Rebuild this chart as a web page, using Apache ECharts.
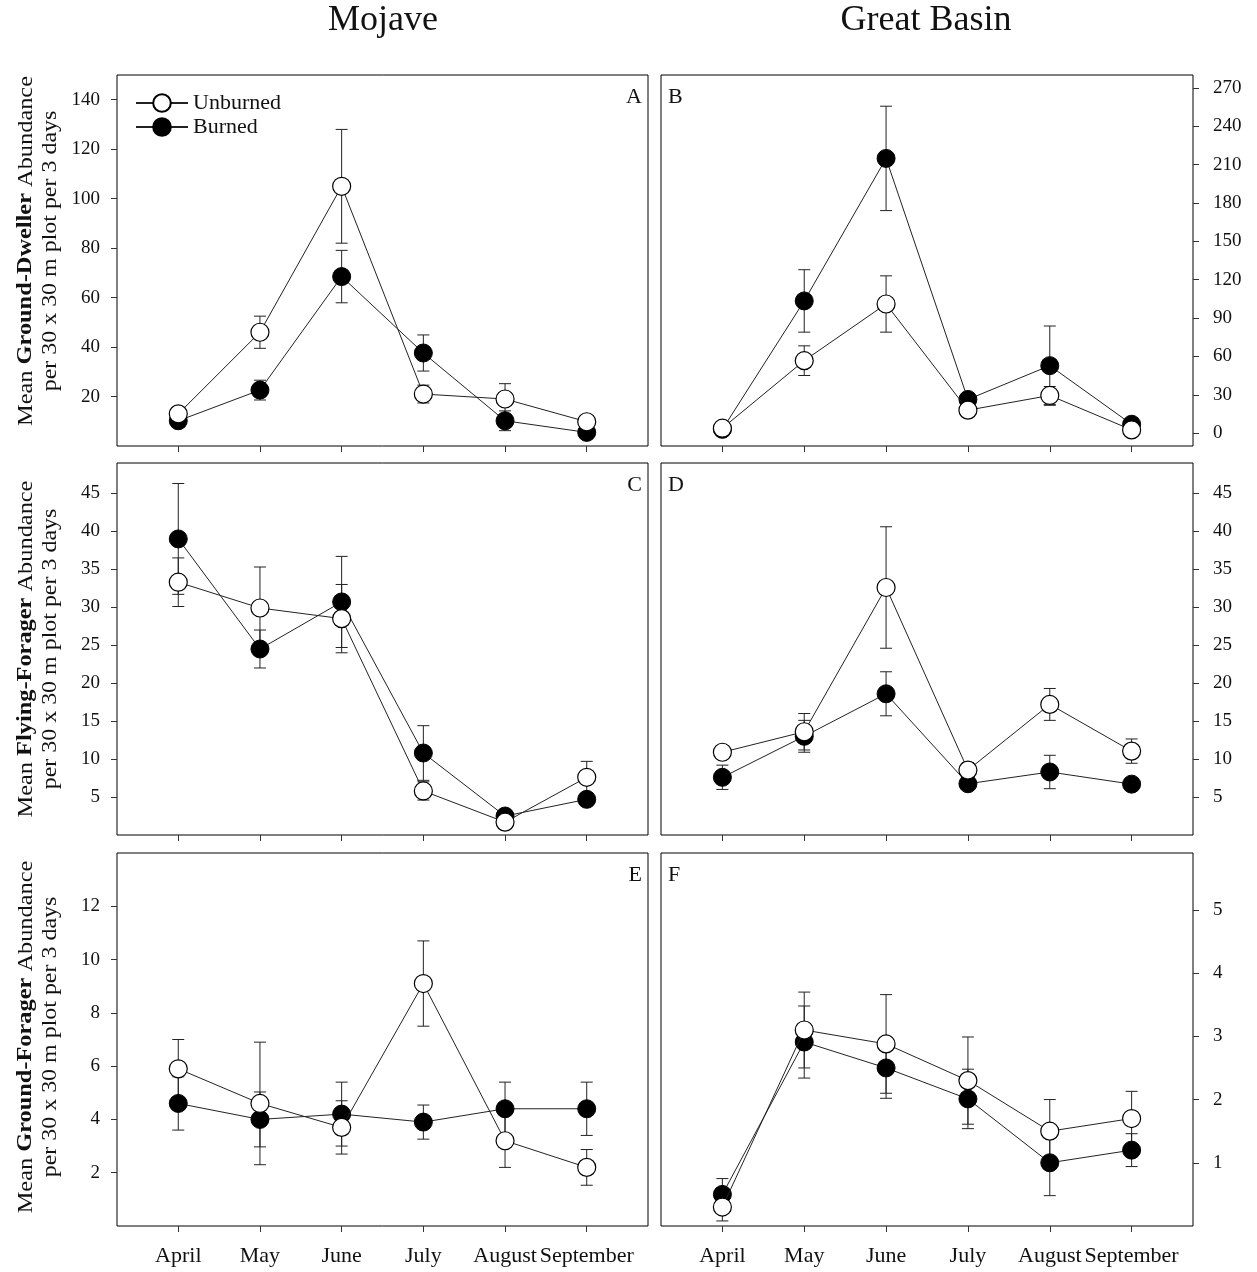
<!DOCTYPE html>
<html>
<head>
<meta charset="utf-8">
<script src="https://cdn.jsdelivr.net/npm/echarts@6/dist/echarts.min.js"></script>
<style>
  html, body { margin: 0; padding: 0; background: #fff; }
  #chart { width: 1257px; height: 1272px; }
</style>
</head>
<body>
<div id="chart"></div>
<script>
var months = ['April', 'May', 'June', 'July', 'August', 'September'];

// A - Mojave, ground-dweller
var aUnb = [13, 46, 105, 21, 19, 9.8];
var aUnbSE = [2, 6.5, 23, 3.6, 6.2, 1.5];
var aBur = [10.2, 22.6, 68.5, 37.6, 10.2, 5.5];
var aBurSE = [1.5, 4, 10.6, 7.3, 4, 1];
var aTicks = [20, 40, 60, 80, 100, 120, 140];

// B - Great Basin, ground-dweller
var bUnb = [3.9, 56.7, 101, 18, 29.5, 2.6];
var bUnbSE = [1.5, 11.6, 22, 3, 7, 1];
var bBur = [3, 103.4, 214.8, 26.4, 52.8, 7];
var bBurSE = [1, 24.4, 40.8, 3, 31, 1.5];
var bTicks = [0, 30, 60, 90, 120, 150, 180, 210, 240, 270];

// C - Mojave, flying-forager
var cUnb = [33.3, 29.9, 28.5, 5.8, 1.7, 7.6];
var cUnbSE = [3.2, 5.4, 4.5, 1.2, 0.5, 2.1];
var cBur = [39.0, 24.5, 30.7, 10.8, 2.5, 4.7];
var cBurSE = [7.3, 2.5, 6, 3.6, 0.5, 0.8];
var cTicks = [5, 10, 15, 20, 25, 30, 35, 40, 45];

// D - Great Basin, flying-forager
var dUnb = [10.9, 13.6, 32.6, 8.55, 17.2, 11.05];
var dUnbSE = [0.8, 2.4, 8, 1, 2.1, 1.6];
var dBur = [7.6, 13.0, 18.6, 6.75, 8.3, 6.7];
var dBurSE = [1.6, 2.1, 2.9, 0.5, 2.2, 0.5];
var dTicks = [5, 10, 15, 20, 25, 30, 35, 40, 45];

// E - Mojave, ground-forager
var eUnb = [5.9, 4.6, 3.7, 9.1, 3.2, 2.2];
var eUnbSE = [1.1, 2.3, 1.0, 1.6, 1.0, 0.67];
var eBur = [4.6, 4.0, 4.2, 3.9, 4.4, 4.4];
var eBurSE = [1.0, 1.03, 1.2, 0.64, 1.0, 1.0];
var eTicks = [2, 4, 6, 8, 10, 12];

// F - Great Basin, ground-forager
var fUnb = [0.3, 3.1, 2.88, 2.3, 1.5, 1.7];
var fUnbSE = [0.22, 0.6, 0.78, 0.69, 0.5, 0.43];
var fBur = [0.5, 2.91, 2.5, 2.01, 1.0, 1.2];
var fBurSE = [0.25, 0.57, 0.48, 0.47, 0.52, 0.26];
var fTicks = [1, 2, 3, 4, 5];

var guilds = ['Ground-Dweller', 'Flying-Forager', 'Ground-Forager'];

var FONT = '"Liberation Serif", "DejaVu Serif", serif';
var INK = '#111';

var panels = [
    { letter: 'A', unb: aUnb, unbSE: aUnbSE, bur: aBur, burSE: aBurSE, ticks: aTicks, min: 0, max: 150, right: false, row: 0 },
    { letter: 'B', unb: bUnb, unbSE: bUnbSE, bur: bBur, burSE: bBurSE, ticks: bTicks, min: -10, max: 280, right: true, row: 0 },
    { letter: 'C', unb: cUnb, unbSE: cUnbSE, bur: cBur, burSE: cBurSE, ticks: cTicks, min: 0, max: 49, right: false, row: 1 },
    { letter: 'D', unb: dUnb, unbSE: dUnbSE, bur: dBur, burSE: dBurSE, ticks: dTicks, min: 0, max: 49, right: true, row: 1 },
    { letter: 'E', unb: eUnb, unbSE: eUnbSE, bur: eBur, burSE: eBurSE, ticks: eTicks, min: 0, max: 14, right: false, row: 2 },
    { letter: 'F', unb: fUnb, unbSE: fUnbSE, bur: fBur, burSE: fBurSE, ticks: fTicks, min: 0, max: 5.9, right: true, row: 2 }
];

var rowTop = [75, 463, 853];
var rowH = [371, 372, 373];
var colLeft = [117, 661];
var colW = [531, 532];
var titleY = [251, 649, 1037];

function pairs(arr) {
    return arr.map(function (v, i) { return [i, v]; });
}
function triples(arr, se) {
    return arr.map(function (v, i) { return [i, v, se[i]]; });
}

function errBars(params, api) {
    var x = api.value(0), m = api.value(1), s = api.value(2);
    var top = api.coord([x, m + s]);
    var bot = api.coord([x, m - s]);
    var w = 6;
    var st = { stroke: '#222', lineWidth: 1 };
    return {
        type: 'group',
        children: [
            { type: 'line', shape: { x1: top[0], y1: top[1], x2: bot[0], y2: bot[1] }, style: st },
            { type: 'line', shape: { x1: top[0] - w, y1: top[1], x2: top[0] + w, y2: top[1] }, style: st },
            { type: 'line', shape: { x1: bot[0] - w, y1: bot[1], x2: bot[0] + w, y2: bot[1] }, style: st }
        ]
    };
}

var grids = [], xAxes = [], yAxes = [], series = [], graphics = [];

panels.forEach(function (p, k) {
    var col = p.right ? 1 : 0;
    grids.push({
        left: colLeft[col], top: rowTop[p.row], width: colW[col], height: rowH[p.row],
        show: true, borderColor: '#000', borderWidth: 1
    });
    xAxes.push({
        gridIndex: k, type: 'value', min: -0.75, max: 5.75,
        axisLine: { show: false, onZero: false },
        splitLine: { show: false },
        axisTick: { show: true, length: 6, lineStyle: { color: '#333' }, customValues: [0, 1, 2, 3, 4, 5] },
        axisLabel: {
            show: p.row === 2, customValues: [0, 1, 2, 3, 4, 5], margin: 19,
            formatter: function (v) { return months[Math.round(v)]; },
            fontFamily: FONT, fontSize: 22, color: INK
        }
    });
    yAxes.push({
        gridIndex: k, type: 'value', min: p.min, max: p.max,
        position: p.right ? 'right' : 'left',
        axisLine: { show: false, onZero: false },
        splitLine: { show: false },
        axisTick: { show: true, length: 6, lineStyle: { color: '#333' }, customValues: p.ticks },
        axisLabel: { customValues: p.ticks, margin: p.right ? 20 : 17, fontFamily: FONT, fontSize: 19, color: INK }
    });
    series.push({
        type: 'custom', xAxisIndex: k, yAxisIndex: k, z: 1,
        renderItem: errBars, encode: { x: 0, y: 1 },
        data: triples(p.bur, p.burSE), silent: true
    });
    series.push({
        type: 'custom', xAxisIndex: k, yAxisIndex: k, z: 1,
        renderItem: errBars, encode: { x: 0, y: 1 },
        data: triples(p.unb, p.unbSE), silent: true
    });
    series.push({
        name: 'Burned', type: 'line', xAxisIndex: k, yAxisIndex: k, z: 3,
        data: pairs(p.bur), symbol: 'circle', symbolSize: 18,
        itemStyle: { color: '#000', borderColor: '#000', borderWidth: 1 },
        lineStyle: { color: '#222', width: 1 }
    });
    series.push({
        name: 'Unburned', type: 'line', xAxisIndex: k, yAxisIndex: k, z: 4,
        data: pairs(p.unb), symbol: 'circle', symbolSize: 18,
        itemStyle: { color: '#fff', borderColor: '#000', borderWidth: 1.2 },
        lineStyle: { color: '#222', width: 1 }
    });
    graphics.push({
        type: 'text',
        x: p.right ? colLeft[col] + 7 : colLeft[col] + colW[col] - 6,
        y: rowTop[p.row] + 22,
        style: {
            text: p.letter, font: '22px ' + FONT, fill: INK,
            align: p.right ? 'left' : 'right', verticalAlign: 'middle'
        }
    });
});

// column titles
graphics.push({ type: 'text', x: 383, y: 21, style: { text: 'Mojave', font: '36px ' + FONT, fill: INK, align: 'center', verticalAlign: 'middle' } });
graphics.push({ type: 'text', x: 926, y: 21, style: { text: 'Great Basin', font: '36px ' + FONT, fill: INK, align: 'center', verticalAlign: 'middle' } });

// y-axis titles (two lines, rotated)
guilds.forEach(function (g, r) {
    graphics.push({
        type: 'text', x: 26, y: titleY[r], rotation: Math.PI / 2, scaleX: 1.16,
        style: {
            text: '{n|Mean }{b|' + g + '}{n| Abundance}',
            align: 'center', verticalAlign: 'middle',
            rich: {
                n: { fontFamily: FONT, fontSize: 21, fill: INK, color: INK },
                b: { fontFamily: FONT, fontSize: 21, fontWeight: 'bold', fill: INK, color: INK }
            }
        }
    });
    graphics.push({
        type: 'text', x: 50, y: titleY[r], rotation: Math.PI / 2, scaleX: 1.14,
        style: {
            text: 'per 30 x 30 m plot per 3 days', font: '21px ' + FONT, fill: INK,
            align: 'center', verticalAlign: 'middle'
        }
    });
});

var chart = echarts.init(document.getElementById('chart'));
chart.setOption({
    animation: false,
    backgroundColor: '#fff',
    legend: {
        data: ['Unburned', 'Burned'],
        orient: 'vertical', left: 130, top: 87,
        itemWidth: 52, itemHeight: 22, itemGap: 2,
        textStyle: { fontFamily: FONT, fontSize: 22, color: INK }
    },
    grid: grids,
    xAxis: xAxes,
    yAxis: yAxes,
    series: series,
    graphic: graphics
});
</script>
</body>
</html>
